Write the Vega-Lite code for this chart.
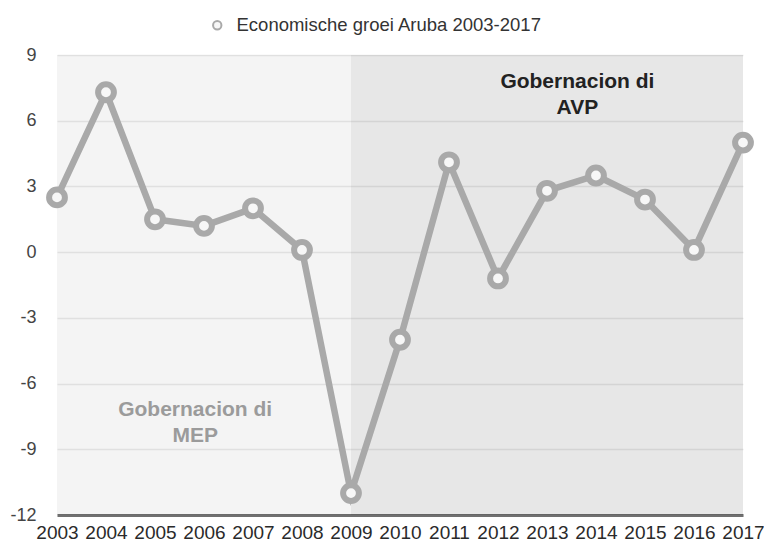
{
  "$schema": "https://vega.github.io/schema/vega-lite/v6.json",
  "width": 686,
  "height": 460,
  "autosize": {"type": "none"},
  "padding": {"left": 57, "top": 55, "right": 21, "bottom": 27},
  "background": "white",
  "config": {
    "view": {"stroke": null},
    "font": "Liberation Sans",
    "axisX": {"domainColor": "#707070", "domainWidth": 3, "ticks": false, "grid": false, "labelFontSize": 19, "labelColor": "#2a2a2a", "labelPadding": 8, "labelFlush": false, "labelOverlap": false},
    "axisY": {"domain": false, "ticks": false, "grid": true, "gridColor": "#ebebeb", "gridWidth": 1.5, "labelFontSize": 18, "labelColor": "#444444", "labelPadding": 21}
  },
  "datasets": {
    "groei": [
      {"jaar": 2003, "groei": 2.5, "serie": "Economische groei Aruba 2003-2017"},
      {"jaar": 2004, "groei": 7.3, "serie": "Economische groei Aruba 2003-2017"},
      {"jaar": 2005, "groei": 1.5, "serie": "Economische groei Aruba 2003-2017"},
      {"jaar": 2006, "groei": 1.2, "serie": "Economische groei Aruba 2003-2017"},
      {"jaar": 2007, "groei": 2.0, "serie": "Economische groei Aruba 2003-2017"},
      {"jaar": 2008, "groei": 0.1, "serie": "Economische groei Aruba 2003-2017"},
      {"jaar": 2009, "groei": -11.0, "serie": "Economische groei Aruba 2003-2017"},
      {"jaar": 2010, "groei": -4.0, "serie": "Economische groei Aruba 2003-2017"},
      {"jaar": 2011, "groei": 4.1, "serie": "Economische groei Aruba 2003-2017"},
      {"jaar": 2012, "groei": -1.2, "serie": "Economische groei Aruba 2003-2017"},
      {"jaar": 2013, "groei": 2.8, "serie": "Economische groei Aruba 2003-2017"},
      {"jaar": 2014, "groei": 3.5, "serie": "Economische groei Aruba 2003-2017"},
      {"jaar": 2015, "groei": 2.4, "serie": "Economische groei Aruba 2003-2017"},
      {"jaar": 2016, "groei": 0.1, "serie": "Economische groei Aruba 2003-2017"},
      {"jaar": 2017, "groei": 5.0, "serie": "Economische groei Aruba 2003-2017"}
    ],
    "periodes": [
      {"start": 2003, "end": 2009, "periode": "MEP"},
      {"start": 2009, "end": 2017, "periode": "AVP"}
    ],
    "labels": [
      {"jaar": 2005.82, "groei": -7.2, "tekst": "Gobernacion di\nMEP", "periode": "MEP"},
      {"jaar": 2013.62, "groei": 7.75, "tekst": "Gobernacion di\nAVP", "periode": "AVP"}
    ]
  },
  "layer": [
    {
      "data": {"name": "periodes"},
      "mark": {"type": "rect", "fill": "#000000"},
      "encoding": {
        "x": {"field": "start", "type": "quantitative", "scale": {"domain": [2003, 2017], "nice": false, "zero": false}, "axis": {"title": null, "values": [2003,2004,2005,2006,2007,2008,2009,2010,2011,2012,2013,2014,2015,2016,2017], "format": "d"}},
        "x2": {"field": "end"},
        "y": {"datum": 9, "type": "quantitative", "scale": {"domain": [-12, 9], "nice": false, "zero": false}, "axis": {"title": null, "values": [-12,-9,-6,-3,0,3,6,9], "labelExpr": "'' + datum.value"}},
        "y2": {"datum": -12},
        "fillOpacity": {"field": "periode", "type": "nominal", "scale": {"domain": ["MEP", "AVP"], "range": [0.045, 0.095]}, "legend": null}
      }
    },
    {
      "data": {"name": "groei"},
      "mark": {"type": "line", "color": "#a9a9a9", "strokeWidth": 6.5},
      "encoding": {
        "x": {"field": "jaar", "type": "quantitative", "axis": {"title": null, "values": [2003,2004,2005,2006,2007,2008,2009,2010,2011,2012,2013,2014,2015,2016,2017], "format": "d"}},
        "y": {"field": "groei", "type": "quantitative", "axis": {"title": null, "values": [-12,-9,-6,-3,0,3,6,9], "labelExpr": "'' + datum.value"}}
      }
    },
    {
      "data": {"name": "groei"},
      "mark": {"type": "point", "shape": "circle", "filled": true, "fill": "#f7f7f7", "strokeWidth": 6, "size": 250, "opacity": 1, "strokeOpacity": 1, "fillOpacity": 1},
      "encoding": {
        "x": {"field": "jaar", "type": "quantitative"},
        "y": {"field": "groei", "type": "quantitative"},
        "stroke": {"field": "serie", "type": "nominal", "scale": {"range": ["#a9a9a9"]}, "legend": {"orient": "none", "legendX": 151, "legendY": -39, "title": null, "labelFontSize": 18.5, "labelLimit": 500, "labelColor": "#333333", "symbolType": "circle", "symbolSize": 70, "symbolStrokeWidth": 2, "symbolFillColor": "#ffffff", "labelOffset": 10, "padding": 0}}
      }
    },
    {
      "data": {"name": "labels"},
      "mark": {"type": "text", "fontWeight": "bold", "fontSize": 21, "lineBreak": "\n", "lineHeight": 26, "align": "center", "baseline": "middle"},
      "encoding": {
        "x": {"field": "jaar", "type": "quantitative"},
        "y": {"field": "groei", "type": "quantitative"},
        "text": {"field": "tekst"},
        "color": {"field": "periode", "type": "nominal", "scale": {"domain": ["MEP", "AVP"], "range": ["#9b9b9b", "#222222"]}, "legend": null}
      }
    }
  ]
}
